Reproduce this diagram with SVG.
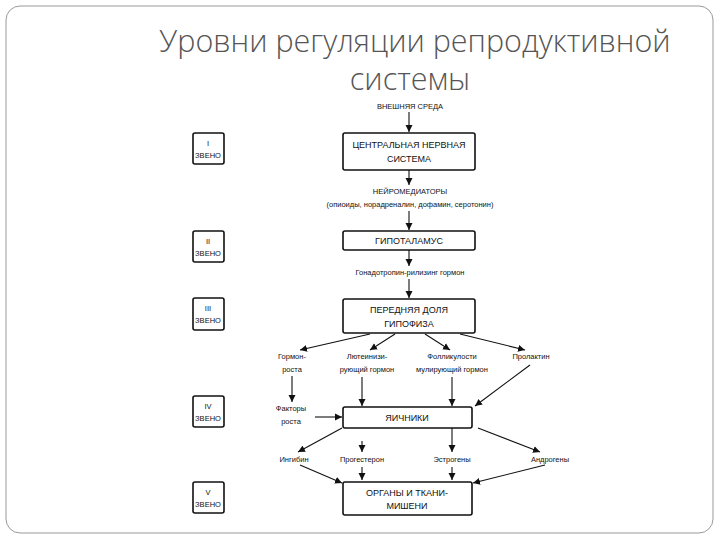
<svg xmlns="http://www.w3.org/2000/svg" width="720" height="540" viewBox="0 0 720 540">
<defs>
<marker id="a" markerWidth="8" markerHeight="8" refX="7" refY="4" orient="auto" markerUnits="userSpaceOnUse"><path d="M0,0.5 L7,4 L0,7.5 z" fill="#111"/></marker>
<style>
.b{fill:#fff;stroke:#111;stroke-width:1.6}
.t{font-family:"Liberation Sans",Arial,sans-serif;font-size:9px;fill:#111;text-anchor:middle}
.s{font-family:"Liberation Sans",Arial,sans-serif;font-size:7.5px;fill:#111;text-anchor:middle}
.c line{stroke:#111;stroke-width:1.1;marker-end:url(#a)}
</style>
</defs>
<rect x="0" y="0" width="720" height="540" fill="#fff"/>
<rect x="6" y="6" width="707" height="527" rx="14" fill="none" stroke="#999" stroke-width="1"/>
<text x="415" y="52" font-family="Open Sans,Liberation Sans,sans-serif" font-size="30.5" font-weight="300" fill="#555" text-anchor="middle">Уровни регуляции репродуктивной</text>
<text x="410" y="90" font-family="Open Sans,Liberation Sans,sans-serif" font-size="30.5" font-weight="300" fill="#555" text-anchor="middle">системы</text>
<g id="z1"><rect class="b" x="193" y="133" width="31" height="31" rx="2"/><text class="s" x="208" y="146">I</text><text class="s" x="208" y="158">ЗВЕНО</text></g>
<g id="z2"><rect class="b" x="193" y="231" width="31" height="31" rx="2"/><text class="s" x="208" y="244">II</text><text class="s" x="208" y="256">ЗВЕНО</text></g>
<g id="z3"><rect class="b" x="193" y="298" width="31" height="32" rx="2"/><text class="s" x="208" y="311">III</text><text class="s" x="208" y="323">ЗВЕНО</text></g>
<g id="z4"><rect class="b" x="193" y="396" width="31" height="31" rx="2"/><text class="s" x="208" y="409">IV</text><text class="s" x="208" y="421">ЗВЕНО</text></g>
<g id="z5"><rect class="b" x="193" y="482" width="31" height="31" rx="2"/><text class="s" x="208" y="495">V</text><text class="s" x="208" y="507">ЗВЕНО</text></g>
<g id="env"><text class="s" x="410" y="109">ВНЕШНЯЯ СРЕДА</text></g>
<g id="cns"><rect class="b" x="343" y="133" width="132" height="37" rx="2"/><text class="t" x="409" y="148">ЦЕНТРАЛЬНАЯ НЕРВНАЯ</text><text class="t" x="409" y="162">СИСТЕМА</text></g>
<g id="nm"><text class="s" x="410" y="194">НЕЙРОМЕДИАТОРЫ</text><text class="s" x="410" y="207">(опиоиды, норадреналин, дофамин, серотонин)</text></g>
<g id="hyp"><rect class="b" x="343" y="231" width="132" height="19" rx="2"/><text class="t" x="409" y="244">ГИПОТАЛАМУС</text></g>
<g id="gnrh"><text class="s" x="410" y="275">Гонадотропин-рилизинг гормон</text></g>
<g id="pit"><rect class="b" x="343" y="299" width="132" height="34" rx="2"/><text class="t" x="409" y="313">ПЕРЕДНЯЯ ДОЛЯ</text><text class="t" x="409" y="327">ГИПОФИЗА</text></g>
<g id="gr"><text class="s" x="292" y="359">Гормон-</text><text class="s" x="292" y="372">роста</text></g>
<g id="lh"><text class="s" x="367" y="359">Лютеинизи-</text><text class="s" x="367" y="372">рующий гормон</text></g>
<g id="fsh"><text class="s" x="452" y="359">Фолликулости</text><text class="s" x="452" y="372">мулирующий гормон</text></g>
<g id="prl"><text class="s" x="531" y="359">Пролактин</text></g>
<g id="gf"><text class="s" x="291" y="411">Факторы</text><text class="s" x="291" y="424">роста</text></g>
<g id="ov"><rect class="b" x="343" y="407" width="129" height="21" rx="2"/><text class="t" x="407" y="421">ЯИЧНИКИ</text></g>
<g id="inh"><text class="s" x="294" y="462">Ингибин</text></g>
<g id="prg"><text class="s" x="362" y="462">Прогестерон</text></g>
<g id="est"><text class="s" x="452" y="462">Эстрогены</text></g>
<g id="and"><text class="s" x="550" y="462">Андрогены</text></g>
<g id="org"><rect class="b" x="343" y="482" width="129" height="33" rx="2"/><text class="t" x="407" y="496">ОРГАНЫ  И ТКАНИ-</text><text class="t" x="407" y="509">МИШЕНИ</text></g>
<g id="connectors" class="c">
<line x1="409" y1="112" x2="409" y2="132"/>
<line x1="409" y1="170" x2="409" y2="185"/>
<line x1="409" y1="211" x2="409" y2="230"/>
<line x1="409" y1="250" x2="409" y2="266"/>
<line x1="409" y1="279" x2="409" y2="298"/>
<line x1="370" y1="334" x2="300" y2="350"/>
<line x1="395" y1="334" x2="370" y2="350"/>
<line x1="425" y1="334" x2="450" y2="350"/>
<line x1="460" y1="334" x2="525" y2="350"/>
<line x1="292" y1="376" x2="292" y2="402"/>
<line x1="362" y1="377" x2="362" y2="406"/>
<line x1="452" y1="377" x2="452" y2="406"/>
<line x1="530" y1="365" x2="475" y2="406"/>
<line x1="315" y1="417" x2="342" y2="417"/>
<line x1="342" y1="428" x2="298" y2="452"/>
<line x1="362" y1="441" x2="362" y2="452"/>
<line x1="452" y1="428" x2="452" y2="452"/>
<line x1="478" y1="428" x2="540" y2="452"/>
<line x1="300" y1="465" x2="342" y2="483"/>
<line x1="362" y1="467" x2="362" y2="480"/>
<line x1="452" y1="467" x2="452" y2="480"/>
<line x1="545" y1="465" x2="473" y2="483"/>
</g>
</svg>
